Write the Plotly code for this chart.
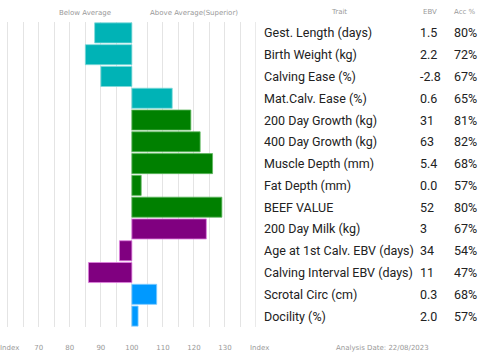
import plotly.graph_objects as go

traits = ["Gest. Length (days)", "Birth Weight (kg)", "Calving Ease (%)",
          "Mat.Calv. Ease (%)", "200 Day Growth (kg)", "400 Day Growth (kg)",
          "Muscle Depth (mm)", "Fat Depth (mm)", "BEEF VALUE", "200 Day Milk (kg)",
          "Age at 1st Calv. EBV (days)", "Calving Interval EBV (days)",
          "Scrotal Circ (cm)", "Docility (%)"]
index_values = [88, 85, 90, 113, 119, 122, 126, 103, 129, 124, 96, 86, 108, 102]
ebv = ["1.5", "2.2", "-2.8", "0.6", "31", "63", "5.4", "0.0", "52", "3", "34", "11", "0.3", "2.0"]
acc = ["80%", "72%", "67%", "65%", "81%", "82%", "68%", "57%", "80%", "67%", "54%", "47%", "68%", "57%"]
groups = ["calving", "calving", "calving", "calving", "growth", "growth", "growth",
          "growth", "growth", "maternal", "maternal", "maternal", "other", "other"]
tick_vals = [70, 80, 90, 100, 110, 120, 130]
analysis_date = "22/08/2023"

fill = {"calving": "#00B3B6", "growth": "#008000", "maternal": "#800080", "other": "#0099FF"}
edge = {"calving": "#7fd9db", "growth": "#5fb85f", "maternal": "#e080e0", "other": "#80ccff"}

BASE = 100
fig = go.Figure(go.Bar(
    y=traits, x=[v - BASE for v in index_values], base=BASE, orientation="h",
    marker=dict(color=[fill[g] for g in groups],
                line=dict(color=[edge[g] for g in groups], width=0.8)),
    hoverinfo="skip",
))

W, H = 499, 362
L, R, T, B = 0, 243, 22, 35
pw = W - L - R
ph = H - T - B

def px(xp):
    return (xp - L) / pw

def py(yp):
    return (H - B - yp) / ph

ann = []
tfont = dict(family="Roboto", size=12.5, color="#222")
for t, e, a in zip(traits, ebv, acc):
    ann.append(dict(x=px(262), y=t, xref="paper", yref="y", text=t, showarrow=False,
                    xanchor="left", font=tfont))
    ann.append(dict(x=px(418), y=t, xref="paper", yref="y", text=e, showarrow=False,
                    xanchor="left", font=tfont))
    ann.append(dict(x=px(452), y=t, xref="paper", yref="y", text=a, showarrow=False,
                    xanchor="left", font=tfont))

sfont = dict(family="DejaVu Sans", size=7, color="#999")
for txt, xc, yc in [("Below Average", 85, 13), ("Above Average(Superior)", 194, 13),
                    ("Trait", 339, 12), ("EBV", 430, 12), ("Acc %", 465, 12),
                    ("Index", 9, 348), ("Index", 259, 348),
                    ("Analysis Date: " + analysis_date, 382, 348)]:
    ann.append(dict(x=px(xc), y=py(yc), xref="paper", yref="paper", text=txt,
                    showarrow=False, xanchor="center", yanchor="middle", font=sfont))

fig.update_layout(
    width=W, height=H, margin=dict(l=L, r=R, t=T, b=B),
    paper_bgcolor="white", plot_bgcolor="white",
    bargap=0.08, showlegend=False, annotations=ann,
    xaxis=dict(range=[57.5, 140], tickvals=tick_vals, showgrid=True,
               gridcolor="#e4e4e4", gridwidth=1, zeroline=False, showline=False,
               ticks="outside", ticklen=14, tickcolor="rgba(0,0,0,0)",
               tickfont=dict(family="DejaVu Sans", size=7, color="#999"),
               minor=dict(dtick=5, tick0=0, showgrid=True, gridcolor="#e4e4e4")),
    yaxis=dict(autorange="reversed", showticklabels=False, showgrid=False,
               zeroline=False, showline=False),
    shapes=[dict(type="line", xref="x", yref="paper", x0=140, x1=140, y0=0, y1=1,
                 line=dict(color="#d4d4d4", width=1))],
)

fig.write_html("out.html", config={"displayModeBar": False},
               post_script="document.body.style.margin='0';")
